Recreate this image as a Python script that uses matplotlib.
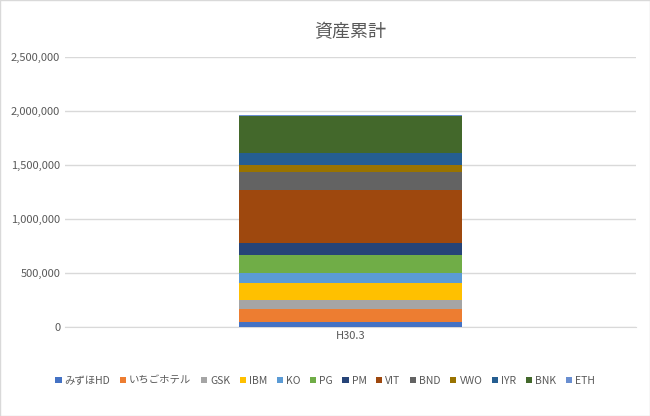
import matplotlib
matplotlib.use("Agg")
import matplotlib.pyplot as plt
from matplotlib.ticker import FuncFormatter

plt.rcParams['font.family'] = ['Noto Sans CJK JP', 'DejaVu Sans']

category = ["H30.3"]
series = ["みずほHD", "いちごホテル", "GSK", "IBM", "KO", "PG", "PM", "VIT", "BND", "VWO", "IYR", "BNK", "ETH"]
values = [40000, 120000, 83000, 157000, 93000, 167000, 111000, 500000, 167000, 56000, 111000, 349000, 12000]
colors = ["#4472C4", "#ED7D31", "#A5A5A5", "#FFC000", "#5B9BD5", "#70AD47", "#264478",
          "#9E480E", "#636363", "#997300", "#255E91", "#43682B", "#698ED0"]

fig = plt.figure(figsize=(6.5, 4.16), dpi=100)
ax = fig.add_axes([0.1, 0.215, 0.878, 0.648])
bottom = 0
for s, v, c in zip(series, values, colors):
    ax.bar(category, [v], bottom=bottom, width=0.39, color=c, label=s, zorder=3)
    bottom += v
ax.set_xlim(-0.5, 0.5)
ax.set_ylim(0, 2500000)
ax.set_yticks(range(0, 2500001, 500000))
ax.yaxis.set_major_formatter(FuncFormatter(lambda v, p: f"{int(v):,}"))
ax.grid(axis='y', color='#D9D9D9', lw=1, zorder=0)
for sp in ax.spines.values():
    sp.set_visible(False)
ax.spines['bottom'].set_visible(True)
ax.spines['bottom'].set_color('#D9D9D9')
ax.tick_params(length=0, labelsize=8, colors='#595959')
ax.set_title("資産累計", fontsize=13, color='#595959', pad=14)
fig.legend(loc='lower center', bbox_to_anchor=(0.5, 0.05), ncol=13, frameon=False,
           fontsize=7.5, handlelength=0.6, handleheight=0.6, columnspacing=0.9, handletextpad=0.3,
           labelcolor='#595959')
fig.patches.append(plt.Rectangle((0, 0), 1, 1, transform=fig.transFigure, fill=False, ec='#D9D9D9', lw=1))
fig.savefig("out.png", dpi=100)
